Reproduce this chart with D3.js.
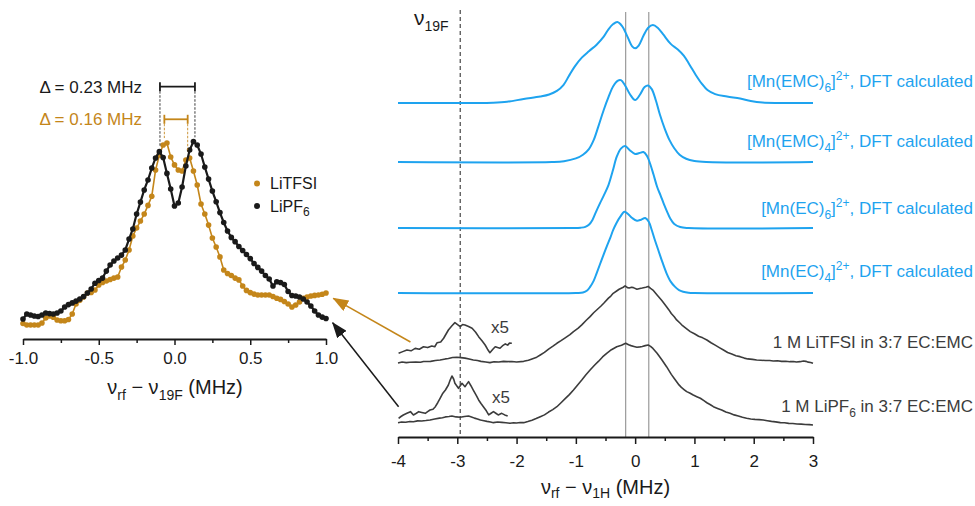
<!DOCTYPE html>
<html><head><meta charset="utf-8">
<script src="https://cdn.jsdelivr.net/npm/d3@7"></script>
<style>
body{margin:0;background:#fff}
svg{display:block}
text{font-family:"Liberation Sans",Arial,Helvetica,sans-serif}
</style>
</head><body>
<svg id="c" width="975" height="506"></svg>
<script>
// ---------------- DATA ----------------
// Left panel: 19F-region ENDOR, nu_rf - nu_19F (MHz), grid step 0.025
const leftNu = d3.range(0, 81).map(i => -1 + i * 0.025);
const lipf6Left = [0.033,0.060,0.054,0.049,0.046,0.054,0.065,0.062,0.060,0.065,
  0.076,0.098,0.111,0.120,0.130,0.141,0.155,0.174,0.196,0.227,
  0.242,0.255,0.293,0.326,0.348,0.364,0.380,0.408,0.467,0.522,
  0.603,0.668,0.734,0.788,0.853,0.908,0.942,0.910,0.824,0.739,
  0.647,0.663,0.750,0.864,0.951,0.997,0.978,0.929,0.859,0.793,
  0.728,0.670,0.611,0.557,0.511,0.476,0.453,0.427,0.405,0.383,
  0.361,0.334,0.313,0.293,0.269,0.250,0.212,0.235,0.231,0.220,
  0.182,0.160,0.158,0.152,0.141,0.125,0.103,0.076,0.054,0.043,0.035];
const litfsiLeft = [0.008,0.000,0.000,0.000,0.000,0.011,0.038,0.049,0.042,0.027,
  0.023,0.023,0.030,0.060,0.114,0.134,0.152,0.174,0.177,0.190,
  0.217,0.231,0.239,0.247,0.255,0.261,0.315,0.353,0.408,0.484,
  0.527,0.565,0.603,0.650,0.700,0.842,0.924,0.978,0.989,0.913,
  0.870,0.842,0.837,0.897,0.908,0.837,0.761,0.658,0.603,0.543,
  0.473,0.424,0.370,0.299,0.280,0.269,0.255,0.245,0.212,0.188,
  0.176,0.168,0.163,0.163,0.163,0.163,0.155,0.145,0.139,0.128,
  0.114,0.098,0.109,0.125,0.145,0.152,0.158,0.161,0.163,0.167,0.174];
const leftTicks = [-1, -0.5, 0, 0.5, 1];
const leftMinor = [-0.75, -0.25, 0.25, 0.75];
const splitLiPF6 = [-0.096, 0.135];   // Δ = 0.23 MHz
const splitLiTFSI = [-0.067, 0.087];  // Δ = 0.16 MHz

// Right panel: 1H ENDOR, nu_rf - nu_1H (MHz)
const emc6 = [[-4,0],[-2.7,0],[-2.4,0.004],[-2.16,0.016],[-1.88,0.05],[-1.6,0.08],[-1.45,0.105],[-1.32,0.15],[-1.21,0.222],[-1.12,0.33],[-1.02,0.45],[-0.9,0.56],[-0.78,0.64],[-0.65,0.72],[-0.53,0.819],[-0.45,0.91],[-0.37,0.975],[-0.3,1.0],[-0.22,0.95],[-0.13,0.82],[-0.05,0.7],[0,0.675],[0.06,0.71],[0.14,0.83],[0.22,0.93],[0.3,0.963],[0.38,0.93],[0.47,0.85],[0.6,0.73],[0.72,0.66],[0.82,0.585],[0.92,0.47],[1.02,0.35],[1.12,0.243],[1.22,0.16],[1.35,0.11],[1.55,0.08],[1.77,0.055],[1.95,0.025],[2.15,0.006],[2.4,0],[3,0]];
const emc4 = [[-4,0],[-1.4,0],[-1.2,0.01],[-1.0,0.045],[-0.88,0.09],[-0.78,0.16],[-0.7,0.27],[-0.62,0.44],[-0.53,0.642],[-0.45,0.8],[-0.37,0.935],[-0.29,1.005],[-0.24,1.01],[-0.17,0.945],[-0.09,0.84],[0,0.765],[0.08,0.83],[0.16,0.925],[0.22,0.945],[0.28,0.9],[0.35,0.76],[0.42,0.58],[0.5,0.41],[0.58,0.27],[0.66,0.17],[0.75,0.09],[0.86,0.04],[1.0,0.012],[1.2,0],[3,0]];
const ec6 = [[-4,0],[-1.05,0],[-0.92,0.004],[-0.84,0.014],[-0.78,0.04],[-0.72,0.1],[-0.66,0.2],[-0.59,0.31],[-0.53,0.4],[-0.45,0.53],[-0.38,0.7],[-0.31,0.88],[-0.24,0.98],[-0.17,1.012],[-0.09,0.96],[0,0.915],[0.07,0.925],[0.14,0.938],[0.2,0.89],[0.25,0.8],[0.31,0.66],[0.37,0.51],[0.43,0.4],[0.48,0.305],[0.54,0.2],[0.59,0.12],[0.66,0.05],[0.76,0.012],[0.9,0],[3,0]];
const ec4 = [[-4,0],[-1.0,0],[-0.88,0.006],[-0.81,0.03],[-0.76,0.075],[-0.7,0.15],[-0.65,0.243],[-0.57,0.4],[-0.48,0.572],[-0.42,0.68],[-0.37,0.778],[-0.31,0.87],[-0.25,0.942],[-0.18,1.004],[-0.12,0.975],[-0.05,0.925],[0.03,0.893],[0.1,0.905],[0.17,0.925],[0.23,0.88],[0.28,0.778],[0.33,0.66],[0.39,0.531],[0.46,0.38],[0.53,0.243],[0.6,0.14],[0.67,0.078],[0.74,0.035],[0.81,0.016],[0.9,0.004],[1.0,0],[3,0]];
const litfsiExp = [[-4.0,0.0],[-3.93,0.012],[-3.86,0.004],[-3.8,0.008],[-3.7,0.012],[-3.62,0.008],[-3.57,0.018],[-3.45,0.02],[-3.37,0.03],[-3.29,0.037],[-3.2,0.05],[-3.15,0.055],[-3.08,0.068],[-3.01,0.07],[-2.94,0.066],[-2.87,0.06],[-2.8,0.048],[-2.73,0.037],[-2.66,0.03],[-2.6,0.02],[-2.52,0.012],[-2.45,0.004],[-2.38,0.014],[-2.3,0.012],[-2.22,0.02],[-2.16,0.016],[-2.08,0.018],[-2.0,0.012],[-1.88,0.02],[-1.8,0.034],[-1.74,0.05],[-1.66,0.072],[-1.6,0.099],[-1.53,0.13],[-1.46,0.17],[-1.38,0.21],[-1.32,0.243],[-1.25,0.275],[-1.18,0.31],[-1.1,0.35],[-1.04,0.387],[-0.96,0.43],[-0.9,0.47],[-0.82,0.53],[-0.76,0.572],[-0.7,0.62],[-0.64,0.66],[-0.58,0.7],[-0.53,0.737],[-0.45,0.8],[-0.41,0.826],[-0.37,0.86],[-0.3,0.895],[-0.27,0.91],[-0.2,0.935],[-0.17,0.951],[-0.13,0.93],[-0.1,0.925],[-0.06,0.935],[-0.03,0.93],[0.03,0.91],[0.08,0.92],[0.12,0.925],[0.18,0.935],[0.22,0.945],[0.26,0.92],[0.3,0.9],[0.37,0.84],[0.45,0.77],[0.53,0.695],[0.57,0.655],[0.61,0.61],[0.66,0.57],[0.7,0.531],[0.76,0.49],[0.8,0.46],[0.87,0.42],[0.93,0.387],[1.0,0.36],[1.07,0.33],[1.14,0.31],[1.21,0.284],[1.28,0.25],[1.35,0.22],[1.42,0.19],[1.49,0.16],[1.56,0.13],[1.63,0.11],[1.7,0.09],[1.77,0.078],[1.84,0.06],[1.9,0.05],[1.98,0.044],[2.05,0.037],[2.12,0.034],[2.2,0.03],[2.27,0.03],[2.33,0.025],[2.4,0.028],[2.47,0.02],[2.54,0.022],[2.61,0.016],[2.67,0.018],[2.72,0.012],[2.78,0.016],[2.84,0.025],[2.88,0.02],[2.92,0.01],[2.96,0.006],[3.0,-0.004]];
const litfsiX5 = [[-3.99,0.12],[-3.92,0.14],[-3.85,0.16],[-3.78,0.15],[-3.71,0.18],[-3.64,0.17],[-3.57,0.2],[-3.5,0.19],[-3.43,0.21],[-3.38,0.2],[-3.34,0.25],[-3.28,0.26],[-3.23,0.305],[-3.15,0.407],[-3.09,0.46],[-3.04,0.498],[-2.99,0.47],[-2.95,0.448],[-2.91,0.475],[-2.87,0.469],[-2.81,0.45],[-2.75,0.428],[-2.69,0.38],[-2.64,0.325],[-2.58,0.27],[-2.53,0.222],[-2.49,0.17],[-2.45,0.127],[-2.4,0.17],[-2.36,0.201],[-2.32,0.19],[-2.28,0.181],[-2.24,0.21],[-2.19,0.235],[-2.15,0.22],[-2.12,0.245],[-2.08,0.243]];
const lipf6Exp = [[-4.0,0.004],[-3.94,0.012],[-3.87,0.01],[-3.8,0.018],[-3.74,0.016],[-3.67,0.026],[-3.6,0.025],[-3.53,0.03],[-3.46,0.037],[-3.38,0.05],[-3.3,0.06],[-3.25,0.065],[-3.2,0.075],[-3.14,0.08],[-3.09,0.086],[-3.02,0.075],[-2.95,0.07],[-2.88,0.08],[-2.81,0.086],[-2.76,0.075],[-2.71,0.06],[-2.66,0.05],[-2.61,0.037],[-2.55,0.028],[-2.5,0.02],[-2.44,0.012],[-2.39,0.004],[-2.32,0.012],[-2.25,0.008],[-2.18,0.002],[-2.11,-0.004],[-2.05,0.002],[-2.0,0.0],[-1.94,0.006],[-1.88,0.004],[-1.81,0.018],[-1.74,0.035],[-1.67,0.055],[-1.6,0.078],[-1.53,0.1],[-1.46,0.135],[-1.39,0.165],[-1.32,0.201],[-1.25,0.25],[-1.18,0.3],[-1.11,0.35],[-1.04,0.407],[-0.97,0.47],[-0.9,0.53],[-0.83,0.595],[-0.76,0.654],[-0.69,0.71],[-0.62,0.76],[-0.55,0.815],[-0.48,0.86],[-0.4,0.905],[-0.31,0.942],[-0.23,0.96],[-0.16,0.984],[-0.11,0.965],[-0.07,0.955],[-0.02,0.945],[0.03,0.935],[0.08,0.94],[0.12,0.945],[0.17,0.955],[0.22,0.963],[0.26,0.945],[0.3,0.92],[0.37,0.86],[0.45,0.78],[0.53,0.695],[0.61,0.6],[0.66,0.55],[0.7,0.51],[0.74,0.47],[0.78,0.44],[0.83,0.41],[0.87,0.387],[0.92,0.37],[0.98,0.345],[1.04,0.325],[1.1,0.305],[1.16,0.275],[1.21,0.25],[1.27,0.225],[1.32,0.201],[1.39,0.18],[1.46,0.16],[1.53,0.135],[1.6,0.119],[1.67,0.1],[1.74,0.085],[1.81,0.07],[1.88,0.058],[1.95,0.05],[2.02,0.045],[2.09,0.042],[2.16,0.037],[2.23,0.028],[2.3,0.02],[2.37,0.014],[2.45,0.004],[2.52,0.002],[2.59,-0.005],[2.66,-0.006],[2.73,-0.012],[2.8,-0.014],[2.87,-0.018],[2.94,-0.02],[3.0,-0.025]];
const lipf6X5 = [[-3.99,0.058],[-3.95,0.08],[-3.91,0.099],[-3.85,0.12],[-3.79,0.14],[-3.74,0.099],[-3.69,0.12],[-3.65,0.14],[-3.6,0.13],[-3.54,0.119],[-3.5,0.14],[-3.46,0.16],[-3.41,0.17],[-3.37,0.201],[-3.33,0.25],[-3.29,0.305],[-3.25,0.36],[-3.2,0.407],[-3.15,0.469],[-3.12,0.53],[-3.09,0.58],[-3.06,0.54],[-3.04,0.49],[-3.01,0.46],[-2.98,0.428],[-2.95,0.46],[-2.92,0.49],[-2.87,0.448],[-2.84,0.48],[-2.81,0.51],[-2.77,0.46],[-2.73,0.407],[-2.68,0.34],[-2.64,0.284],[-2.6,0.24],[-2.56,0.201],[-2.51,0.15],[-2.47,0.099],[-2.43,0.12],[-2.39,0.14],[-2.35,0.12],[-2.31,0.099],[-2.25,0.119],[-2.2,0.1],[-2.15,0.086]];
const traceOffsets = [4.123, 3.395, 2.580, 1.778, 0.914, 0.173];
const rightTicks = [-4,-3,-2,-1,0,1,2,3];
const rightMinor = [-3.5,-2.5,-1.5,-0.5,0.5,1.5,2.5];
const peakLines = [-0.16, 0.23];
const nu19F = -2.95;

// ---------------- DRAW ----------------
const BLUE = "#1ea3ef", ORANGE = "#c4861a", DARK = "#3c3c3c", BLACK = "#1a1a1a";
const svg = d3.select("#c");

function rich(sel, parts, size, subSize, subShift) {
  const ss = subShift == null ? 0.28 : subShift;
  let cur = 0;
  parts.forEach(p => {
    const shift = p.s === "sub" ? size * ss : p.s === "sup" ? -size * 0.42 : 0;
    sel.append("tspan").attr("font-size", p.s ? subSize : size)
      .attr("dy", shift - cur).text(p.t);
    cur = shift;
  });
  return sel;
}

const defs = svg.append("defs");
[["arrO", ORANGE], ["arrK", BLACK]].forEach(([id, col]) => {
  defs.append("marker").attr("id", id).attr("markerUnits", "userSpaceOnUse")
    .attr("markerWidth", 16).attr("markerHeight", 12).attr("refX", 15).attr("refY", 6)
    .attr("orient", "auto")
    .append("path").attr("d", "M0,0L16,6L0,12Z").attr("fill", col);
});

// ---- Left panel ----
const xL = d3.scaleLinear().domain([-1, 1]).range([23, 326]);
const yL = d3.scaleLinear().domain([0, 1]).range([325, 141]);
const lineL = d3.line().x(d => xL(d[0])).y(d => yL(d[1]));
const gL = svg.append("g");

const seriesL = [
  {vals: litfsiLeft, col: ORANGE, w: 1.6},
  {vals: lipf6Left, col: BLACK, w: 2.2}
];
seriesL.forEach(s => {
  const pts = leftNu.map((n, i) => [n, s.vals[i]]);
  gL.append("path").attr("d", lineL(pts)).attr("fill", "none")
    .attr("stroke", s.col).attr("stroke-width", s.w);
  gL.selectAll(null).data(pts).enter().append("circle")
    .attr("cx", d => xL(d[0])).attr("cy", d => yL(d[1])).attr("r", 2.8)
    .attr("fill", s.col);
});

function bracket(sp, yv, col, topVals) {
  const y = yL(yv);
  gL.append("line").attr("x1", xL(sp[0])).attr("x2", xL(sp[1])).attr("y1", y).attr("y2", y)
    .attr("stroke", col).attr("stroke-width", 1.8);
  sp.forEach((v, i) => {
    gL.append("line").attr("x1", xL(v)).attr("x2", xL(v)).attr("y1", y - 4.5).attr("y2", y + 4.5)
      .attr("stroke", col).attr("stroke-width", 1.8);
    gL.append("line").attr("x1", xL(v)).attr("x2", xL(v)).attr("y1", y + 4.5).attr("y2", yL(topVals[i]))
      .attr("stroke", col).attr("stroke-width", 1).attr("stroke-dasharray", "2.5,1.5").attr("opacity", 0.85);
  });
}
bracket(splitLiPF6, 1.295, BLACK, [0.967, 1.02]);
bracket(splitLiTFSI, 1.118, ORANGE, [1.016, 0.94]);

gL.append("text").attr("x", 142).attr("y", 93).attr("text-anchor", "end")
  .attr("font-size", 17).attr("fill", BLACK).text("Δ = 0.23 MHz");
gL.append("text").attr("x", 142).attr("y", 125).attr("text-anchor", "end")
  .attr("font-size", 17).attr("fill", ORANGE).text("Δ = 0.16 MHz");

gL.append("circle").attr("cx", 257).attr("cy", 183.5).attr("r", 3).attr("fill", ORANGE);
gL.append("text").attr("x", 270).attr("y", 189).attr("font-size", 16).attr("fill", BLACK).text("LiTFSI");
gL.append("circle").attr("cx", 257).attr("cy", 206).attr("r", 3).attr("fill", BLACK);
rich(gL.append("text").attr("x", 270).attr("y", 212).attr("fill", BLACK),
  [{t: "LiPF"}, {t: "6", s: "sub"}], 16, 12);

const axL = gL.append("g").attr("transform", "translate(0,339)")
  .call(d3.axisBottom(xL).tickValues(leftTicks).tickSize(6).tickSizeOuter(0).tickPadding(7)
    .tickFormat(d => d.toFixed(1)));
gL.append("g").attr("transform", "translate(0,339)")
  .call(d3.axisBottom(xL).tickValues(leftMinor).tickSize(4).tickSizeOuter(0).tickFormat(""))
  .call(g => g.select(".domain").remove());
gL.selectAll(".tick line").attr("stroke", BLACK).attr("stroke-width", 1.5);
axL.select(".domain").attr("stroke", BLACK).attr("stroke-width", 1.8);
axL.selectAll(".tick text").attr("font-size", 17).attr("fill", BLACK)
  .attr("font-family", "'Liberation Sans',Arial,sans-serif");

rich(gL.append("text").attr("x", 175).attr("y", 394).attr("text-anchor", "middle").attr("fill", BLACK),
  [{t: "ν"}, {t: "rf", s: "sub"}, {t: " − ν"}, {t: "19F", s: "sub"}, {t: " (MHz)"}], 20, 14);

// ---- Right panel ----
const xR = d3.scaleLinear().domain([-4, 3]).range([398, 813]);
const yR = d3.scaleLinear().domain([0, 5.2]).range([437, 15.8]);
const gR = svg.append("g");

peakLines.forEach(v => {
  gR.append("line").attr("x1", xR(v)).attr("x2", xR(v)).attr("y1", 12).attr("y2", 437)
    .attr("stroke", "#9a9a9a").attr("stroke-width", 1.2);
});
gR.append("line").attr("x1", xR(nu19F)).attr("x2", xR(nu19F)).attr("y1", 10).attr("y2", 437)
  .attr("stroke", "#555").attr("stroke-width", 1.3).attr("stroke-dasharray", "4,3");
rich(gR.append("text").attr("x", 414).attr("y", 25).attr("fill", BLACK),
  [{t: "ν"}, {t: "19F", s: "sub"}], 21, 14);

const smooth = d3.curveCatmullRom.alpha(0.5);
const traces = [
  {d: emc6, col: BLUE, w: 2, curve: smooth,
   label: [{t: "[Mn(EMC)"}, {t: "6", s: "sub"}, {t: "]"}, {t: "2+", s: "sup"}, {t: ", DFT calculated"}], ldy: -16},
  {d: emc4, col: BLUE, w: 2, curve: smooth,
   label: [{t: "[Mn(EMC)"}, {t: "4", s: "sub"}, {t: "]"}, {t: "2+", s: "sup"}, {t: ", DFT calculated"}], ldy: -15},
  {d: ec6, col: BLUE, w: 2, curve: smooth,
   label: [{t: "[Mn(EC)"}, {t: "6", s: "sub"}, {t: "]"}, {t: "2+", s: "sup"}, {t: ", DFT calculated"}], ldy: -14},
  {d: ec4, col: BLUE, w: 2, curve: smooth,
   label: [{t: "[Mn(EC)"}, {t: "4", s: "sub"}, {t: "]"}, {t: "2+", s: "sup"}, {t: ", DFT calculated"}], ldy: -16},
  {d: litfsiExp, col: DARK, w: 1.6, curve: d3.curveLinear,
   label: [{t: "1 M LiTFSI in 3:7 EC:EMC"}], ldy: -15},
  {d: lipf6Exp, col: DARK, w: 1.6, curve: d3.curveLinear,
   label: [{t: "1 M LiPF"}, {t: "6", s: "sub"}, {t: " in 3:7 EC:EMC"}], ldy: -11}
];
traces.forEach((t, i) => {
  const off = traceOffsets[i];
  const ln = d3.line().curve(t.curve).x(d => xR(d[0])).y(d => yR(off + d[1]));
  gR.append("path").attr("d", ln(t.d)).attr("fill", "none").attr("stroke", t.col)
    .attr("stroke-width", t.w).attr("stroke-linejoin", "round");
  rich(gR.append("text").attr("x", 973).attr("y", yR(off) + t.ldy).attr("text-anchor", "end")
    .attr("fill", t.col === BLUE ? BLUE : DARK), t.label, 17, 12);
});
[[litfsiX5, 4], [lipf6X5, 5]].forEach(([d, i]) => {
  const off = traceOffsets[i];
  const ln = d3.line().x(p => xR(p[0])).y(p => yR(off + p[1]));
  gR.append("path").attr("d", ln(d)).attr("fill", "none").attr("stroke", DARK)
    .attr("stroke-width", 1.6).attr("stroke-linejoin", "round");
});
gR.append("text").attr("x", 491).attr("y", 333).attr("font-size", 17).attr("fill", DARK).text("x5");
gR.append("text").attr("x", 492).attr("y", 403).attr("font-size", 17).attr("fill", DARK).text("x5");

const axR = gR.append("g").attr("transform", "translate(0,437)")
  .call(d3.axisBottom(xR).tickValues(rightTicks).tickSize(7).tickSizeOuter(0).tickPadding(11)
    .tickFormat(d => String(d)));
gR.append("g").attr("transform", "translate(0,437)")
  .call(d3.axisBottom(xR).tickValues(rightMinor).tickSize(4).tickSizeOuter(0).tickFormat(""))
  .call(g => g.select(".domain").remove());
gR.selectAll(".tick line").attr("stroke", BLACK).attr("stroke-width", 1.5);
axR.select(".domain").attr("stroke", BLACK).attr("stroke-width", 1.8);
axR.selectAll(".tick text").attr("font-size", 17).attr("fill", BLACK)
  .attr("font-family", "'Liberation Sans',Arial,sans-serif");

rich(gR.append("text").attr("x", 605.5).attr("y", 494).attr("text-anchor", "middle").attr("fill", BLACK),
  [{t: "ν"}, {t: "rf", s: "sub"}, {t: " − ν"}, {t: "1H", s: "sub"}, {t: " (MHz)"}], 20, 14, 0.22);

svg.append("line").attr("x1", xR(-3.79)).attr("y1", yR(1.173))
  .attr("x2", xL(1.048)).attr("y2", yL(0.145))
  .attr("stroke", ORANGE).attr("stroke-width", 1.5).attr("marker-end", "url(#arrO)");
svg.append("line").attr("x1", xR(-3.99)).attr("y1", yR(0.374))
  .attr("x2", xL(1.044)).attr("y2", yL(0.0125))
  .attr("stroke", BLACK).attr("stroke-width", 1.5).attr("marker-end", "url(#arrK)");
</script>
</body></html>
